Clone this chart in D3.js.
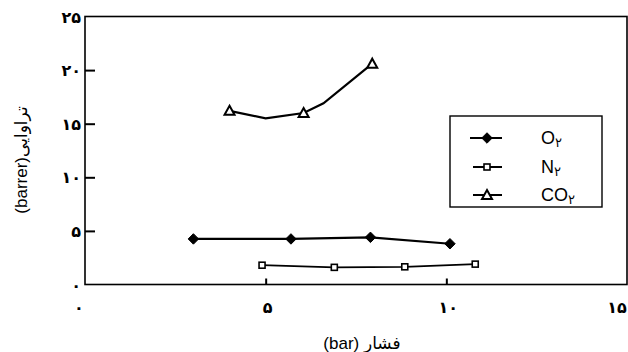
<!DOCTYPE html>
<html>
<head>
<meta charset="utf-8">
<script src="https://cdn.jsdelivr.net/npm/d3@7"></script>
<style>
  body { margin: 0; background: #fff; }
  text { font-family: "Liberation Sans", "DejaVu Sans", sans-serif; fill: #000; }
</style>
</head>
<body>
<div id="chart"></div>
<script>
// data
let xTicks = [0, 5, 10, 15]
let yTicks = [0, 5, 10, 15, 20, 25]
let faDigits = '۰۱۲۳۴۵۶۷۸۹'

let o2X = [3, 5.7, 7.9, 10.1]
let o2Y = [4.25, 4.25, 4.4, 3.8]

let n2X = [4.9, 6.9, 8.85, 10.8]
let n2Y = [1.8, 1.6, 1.65, 1.9]

let co2X = [4, 5, 6.05, 6.6, 7.95]
let co2Y = [16.2, 15.5, 16.0, 16.9, 20.6]
let co2Marked = [true, false, true, false, true]

let seriesNames = ['O', 'N', 'CO']
let seriesMarks = ['diamond', 'square', 'triangle']

let W = 628
let H = 352
let margin = { left: 85, right: 1, top: 16.5, bottom: 67.5 }

let fa = n => String(n).replace(/[0-9]/g, d => faDigits[+d])

let svg = d3
	.select('#chart')
	.append('svg')
	.attr('width', W)
	.attr('height', H)

let x = d3.scaleLinear().domain([0, 15]).range([margin.left, W - margin.right])
let y = d3.scaleLinear().domain([0, 25]).range([H - margin.bottom, margin.top])

// frame
svg
	.append('rect')
	.attr('x', x(0))
	.attr('y', y(25))
	.attr('width', x(15) - x(0))
	.attr('height', y(0) - y(25))
	.attr('fill', 'none')
	.attr('stroke', '#000')
	.attr('stroke-width', 1.6)

// y axis, ticks pointing inward
let yAxis = svg
	.append('g')
	.attr('transform', `translate(${x(0)},0)`)
	.call(
		d3.axisRight(y)
			.tickValues(yTicks.filter(d => d > 0 && d < 25))
			.tickSize(10)
			.tickFormat('')
	)
yAxis.select('.domain').remove()
yAxis.selectAll('line').attr('stroke-width', 2)

svg
	.selectAll('.ylab')
	.data(yTicks)
	.enter()
	.append('text')
	.attr('class', 'ylab')
	.attr('x', 81)
	.attr('y', d => y(d) + 6)
	.attr('text-anchor', 'end')
	.attr('font-size', 16)
	.attr('font-weight', 'bold')
	.text(d => fa(d))

// x axis, ticks pointing inward
let xAxis = svg
	.append('g')
	.attr('transform', `translate(0,${y(0)})`)
	.call(
		d3.axisTop(x)
			.tickValues(xTicks.filter(d => d > 0 && d < 15))
			.tickSize(6)
			.tickFormat('')
	)
xAxis.select('.domain').remove()
xAxis.selectAll('line').attr('stroke-width', 2)

svg
	.selectAll('.xlab')
	.data(xTicks)
	.enter()
	.append('text')
	.attr('class', 'xlab')
	.attr('x', d => (d === 0 ? x(d) - 6 : d === 15 ? x(d) - 10 : x(d) + 2))
	.attr('y', 313)
	.attr('text-anchor', 'middle')
	.attr('font-size', 16)
	.attr('font-weight', 'bold')
	.text(d => fa(d))

// axis titles
svg
	.append('text')
	.attr('x', 362)
	.attr('y', 349)
	.attr('text-anchor', 'middle')
	.attr('font-size', 17)
	.attr('direction', 'rtl')
	.text('فشار (bar)')

svg
	.append('text')
	.attr('transform', 'translate(27,160) rotate(-90)')
	.attr('text-anchor', 'middle')
	.attr('font-size', 17)
	.attr('direction', 'rtl')
	.text('تراوایی(barrer)')

// markers
let drawMark = (g, kind, cx, cy) => {
	if (kind === 'diamond') {
		g.append('path')
			.attr('d', d3.symbol(d3.symbolDiamond2, 70)())
			.attr('transform', `translate(${cx},${cy})`)
			.attr('fill', '#000')
			.attr('stroke', '#000')
			.attr('stroke-width', 1)
	} else if (kind === 'square') {
		g.append('rect')
			.attr('x', cx - 3)
			.attr('y', cy - 3)
			.attr('width', 6)
			.attr('height', 6)
			.attr('fill', '#fff')
			.attr('stroke', '#000')
			.attr('stroke-width', 1.6)
	} else {
		g.append('path')
			.attr('d', `M${cx},${cy - 5}L${cx + 5},${cy + 4}L${cx - 5},${cy + 4}Z`)
			.attr('fill', '#fff')
			.attr('stroke', '#000')
			.attr('stroke-width', 2)
	}
}

let line = d3
	.line()
	.x(d => x(d[0]))
	.y(d => y(d[1]))

let series = [
	{ xs: o2X, ys: o2Y, mark: 'diamond', marked: o2X.map(() => true) },
	{ xs: n2X, ys: n2Y, mark: 'square', marked: n2X.map(() => true) },
	{ xs: co2X, ys: co2Y, mark: 'triangle', marked: co2Marked }
]

series.forEach(s => {
	let pts = s.xs.map((v, i) => [v, s.ys[i]])
	svg
		.append('path')
		.attr('d', line(pts))
		.attr('fill', 'none')
		.attr('stroke', '#000')
		.attr('stroke-width', s.mark === 'square' ? 1.8 : 2.2)
	let g = svg.append('g')
	pts.forEach((p, i) => {
		if (s.marked[i]) drawMark(g, s.mark, x(p[0]), y(p[1]))
	})
})

// legend
let legend = svg.append('g')
legend
	.append('rect')
	.attr('x', 450)
	.attr('y', 116)
	.attr('width', 152)
	.attr('height', 91)
	.attr('fill', '#fff')
	.attr('stroke', '#000')
	.attr('stroke-width', 1.4)

let legY = [138, 167, 195]
seriesNames.forEach((name, i) => {
	let ly = legY[i]
	let x1 = i === 0 ? 470 : 473
	legend
		.append('line')
		.attr('x1', x1)
		.attr('x2', 502)
		.attr('y1', ly)
		.attr('y2', ly)
		.attr('stroke', '#000')
		.attr('stroke-width', 2)
	drawMark(legend, seriesMarks[i], 487, ly)
	let t = legend
		.append('text')
		.attr('x', 541)
		.attr('y', ly + 6)
		.attr('font-size', 18)
	t.append('tspan').text(name)
	t.append('tspan').attr('font-size', 13).attr('dy', 3).text(fa(2))
})
</script>
</body>
</html>
